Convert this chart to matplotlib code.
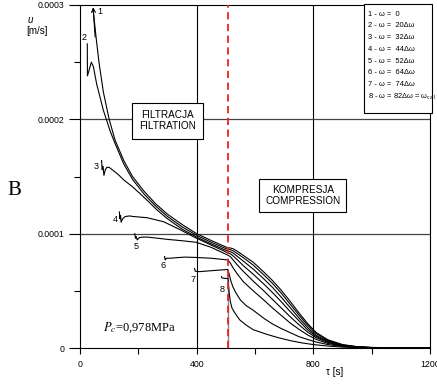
import matplotlib
matplotlib.use("Agg")
import numpy as np
import matplotlib.pyplot as plt
from matplotlib.patches import Rectangle

plt.rcParams['font.family'] = ['Liberation Sans', 'DejaVu Sans']

# velocity u in units of 1e-4 m/s, time in s
t1 = [45, 55, 65, 80, 100, 120, 150, 180, 220, 260, 300, 350, 400, 450, 507, 515, 525, 540, 560, 594, 630, 660, 690, 720, 750, 780, 810, 850, 900, 950, 1000, 1100, 1200]
u1 = [2.96, 2.72, 2.50, 2.24, 2.00, 1.82, 1.64, 1.50, 1.37, 1.26, 1.17, 1.08, 1.00, 0.94, 0.876, 0.875, 0.868, 0.845, 0.81, 0.75, 0.665, 0.59, 0.505, 0.41, 0.31, 0.215, 0.135, 0.072, 0.03, 0.012, 0.005, 0.001, 0.0]

t2 = [25, 25.5, 39, 46, 57, 80, 103, 120, 150, 180, 220, 260, 300, 350, 400, 450, 507, 515, 525, 540, 560, 594, 630, 660, 690, 720, 750, 780, 810, 850, 900, 950, 1000, 1100, 1200]
u2 = [2.66, 2.38, 2.50, 2.46, 2.31, 2.08, 1.90, 1.79, 1.61, 1.475, 1.345, 1.24, 1.15, 1.06, 0.985, 0.925, 0.862, 0.86, 0.85, 0.825, 0.79, 0.725, 0.64, 0.565, 0.48, 0.385, 0.29, 0.2, 0.125, 0.066, 0.027, 0.01, 0.004, 0.001, 0.0]

t3 = [74, 76, 79, 82, 87, 92, 100, 115, 130, 150, 180, 206, 235, 263, 300, 350, 400, 450, 507, 515, 525, 540, 560, 594, 630, 660, 690, 720, 750, 780, 810, 850, 900, 950, 1000, 1100, 1200]
u3 = [1.64, 1.56, 1.59, 1.51, 1.56, 1.58, 1.58, 1.55, 1.52, 1.47, 1.41, 1.35, 1.28, 1.21, 1.13, 1.04, 0.97, 0.91, 0.847, 0.843, 0.83, 0.80, 0.76, 0.69, 0.605, 0.53, 0.445, 0.355, 0.265, 0.18, 0.11, 0.06, 0.024, 0.009, 0.004, 0.001, 0.0]

t4 = [135, 137, 139, 141, 146, 155, 170, 183, 229, 286, 343, 398, 450, 507, 515, 525, 540, 560, 594, 630, 660, 690, 720, 750, 780, 810, 850, 900, 950, 1000, 1100, 1200]
u4 = [1.19, 1.13, 1.16, 1.10, 1.13, 1.15, 1.155, 1.15, 1.14, 1.105, 1.035, 0.962, 0.90, 0.832, 0.825, 0.805, 0.77, 0.72, 0.645, 0.56, 0.485, 0.405, 0.32, 0.24, 0.16, 0.1, 0.055, 0.022, 0.008, 0.003, 0.001, 0.0]

t5 = [188, 190, 193, 196, 203, 215, 230, 260, 300, 343, 398, 450, 507, 515, 525, 540, 560, 594, 630, 660, 690, 720, 750, 780, 810, 850, 900, 950, 1000, 1100, 1200]
u5 = [1.0, 0.96, 0.975, 0.945, 0.965, 0.97, 0.97, 0.962, 0.95, 0.94, 0.925, 0.88, 0.812, 0.80, 0.77, 0.725, 0.67, 0.585, 0.50, 0.425, 0.35, 0.275, 0.205, 0.14, 0.09, 0.048, 0.019, 0.007, 0.003, 0.001, 0.0]

t6 = [290, 292, 296, 310, 331, 360, 398, 450, 507, 515, 525, 540, 560, 594, 630, 660, 690, 720, 750, 780, 810, 850, 900, 950, 1000, 1100, 1200]
u6 = [0.80, 0.77, 0.785, 0.785, 0.79, 0.795, 0.792, 0.785, 0.77, 0.745, 0.70, 0.645, 0.58, 0.50, 0.42, 0.35, 0.285, 0.22, 0.165, 0.115, 0.075, 0.04, 0.017, 0.007, 0.003, 0.001, 0.0]

t7 = [393, 395, 410, 460, 507, 512, 518, 525, 535, 550, 570, 594, 630, 660, 690, 720, 750, 780, 810, 850, 900, 950, 1000, 1100, 1200]
u7 = [0.695, 0.672, 0.668, 0.678, 0.687, 0.64, 0.58, 0.53, 0.48, 0.42, 0.37, 0.33, 0.26, 0.21, 0.17, 0.135, 0.10, 0.075, 0.052, 0.03, 0.013, 0.006, 0.003, 0.001, 0.0]

t8 = [485, 487, 500, 507, 509, 512, 516, 521, 530, 548, 570, 594, 640, 680, 720, 760, 800, 850, 900, 950, 1000, 1100, 1200]
u8 = [0.625, 0.612, 0.608, 0.61, 0.55, 0.47, 0.40, 0.35, 0.31, 0.245, 0.20, 0.16, 0.12, 0.09, 0.065, 0.045, 0.03, 0.017, 0.008, 0.004, 0.002, 0.0005, 0.0]

curves_t = [t1, t2, t3, t4, t5, t6, t7, t8]
curves_u = [u1, u2, u3, u4, u5, u6, u7, u8]

# curve number labels (t, u*1e4)
lab_t = [69, 14, 57, 122, 191, 285, 389, 486]
lab_u = [2.94, 2.72, 1.59, 1.12, 0.89, 0.72, 0.60, 0.51]

legend_lines = ["1 - \u03c9 =  0", "2 - \u03c9 =  20\u0394\u03c9", "3 - \u03c9 =  32\u0394\u03c9",
                "4 - \u03c9 =  44\u0394\u03c9", "5 - \u03c9 =  52\u0394\u03c9", "6 - \u03c9 =  64\u0394\u03c9",
                "7 - \u03c9 =  74\u0394\u03c9", "8 - \u03c9 = 82\u0394\u03c9 = \u03c9$_{\\rm cal}$"]

t_switch = 507      # start of compression
u_drop = 0.61

W, H = 437, 384
fig = plt.figure(figsize=(W / 100, H / 100), dpi=100)
ax = fig.add_axes([80 / W, 36 / H, 350 / W, 343 / H])

for t, u in zip(curves_t, curves_u):
    ax.plot(t, np.array(u) * 1e-4, color='black', lw=0.8, zorder=3)

# arrow at start of curve 1
ax.annotate('', xy=(t1[0], u1[0] * 1e-4 + 0.02e-4), xytext=(t1[1] - 3, u1[1] * 1e-4),
            arrowprops=dict(arrowstyle='->', lw=0.8, color='black',
                            shrinkA=0, shrinkB=0, mutation_scale=7), zorder=4)

for i, (tx, ux) in enumerate(zip(lab_t, lab_u)):
    ax.text(tx, ux * 1e-4, str(i + 1), fontsize=6.5, ha='center', va='center', zorder=5)

# grid
for g in [400, 800]:
    ax.axvline(g, color='black', lw=0.8, zorder=1)
for g in [1e-4, 2e-4]:
    ax.axhline(g, color='#444444', lw=0.9, zorder=1)

# switch line
ax.plot([t_switch, t_switch], [0, u_drop * 1e-4], color='#888888', lw=1.0, zorder=2)
ax.axvline(t_switch, color='#ee2222', lw=1.3, ls=(0, (4, 2.5)), zorder=4)

ax.set_xlim(0, 1200)
ax.set_ylim(0, 3e-4)
ax.set_xticks([0, 400, 800, 1200])
ax.set_xticks([200, 600, 1000], minor=True)
ax.set_yticks([0, 1e-4, 2e-4, 3e-4])
ax.set_yticks([0.5e-4, 1.5e-4, 2.5e-4], minor=True)
ax.set_yticklabels(['0', '0.0001', '0.0002', '0.0003'])
ax.set_xticklabels(['0', '400', '800', '1200'])
ax.tick_params(axis='x', which='major', direction='out', length=4.5, width=0.8, labelsize=6.3, pad=4)
ax.tick_params(axis='x', which='minor', direction='out', length=4, width=0.8)
ax.tick_params(axis='y', which='major', direction='out', length=8, width=0.8, labelsize=6.3, pad=3.5)
ax.tick_params(axis='y', which='minor', direction='out', length=4.5, width=0.8)
for s in ax.spines.values():
    s.set_linewidth(0.8)

ax.text(300, 1.987e-4, "FILTRACJA\nFILTRATION", fontsize=7.2, ha='center', va='center',
        linespacing=1.15, zorder=6,
        bbox=dict(boxstyle='square,pad=0.75', fc='white', ec='black', lw=0.8))
ax.text(764, 1.333e-4, "KOMPRESJA\nCOMPRESSION", fontsize=7.2, ha='center', va='center',
        linespacing=1.15, zorder=6,
        bbox=dict(boxstyle='square,pad=0.6', fc='white', ec='black', lw=0.8))

ax.text(79, 0.18e-4, "$P_c$=0,978MPa", fontsize=9, family='Liberation Serif',
        math_fontfamily='stix', ha='left', va='center', zorder=6)

# legend box
fig.patches.append(Rectangle((364 / W, 1 - 113 / H), 68 / W, 109 / H, transform=fig.transFigure,
                             fc='white', ec='black', lw=0.8, zorder=10))
for i, line in enumerate(legend_lines):
    fig.text(368 / W, 1 - (14 + 11.8 * i) / H, line, fontsize=5.4, va='center', ha='left',
             zorder=11)

fig.text(30 / W, 1 - 20 / H, "u", fontsize=7, style='italic', ha='center', va='center')
fig.text(37 / W, 1 - 31 / H, "[m/s]", fontsize=7, ha='center', va='center')
fig.text(335 / W, 1 - 372 / H, "\u03c4 [s]", fontsize=7, ha='center', va='center')
fig.text(14 / W, 1 - 190 / H, "B", fontsize=15, family='Liberation Serif', ha='center', va='center')

fig.savefig("out.png", dpi=100)
